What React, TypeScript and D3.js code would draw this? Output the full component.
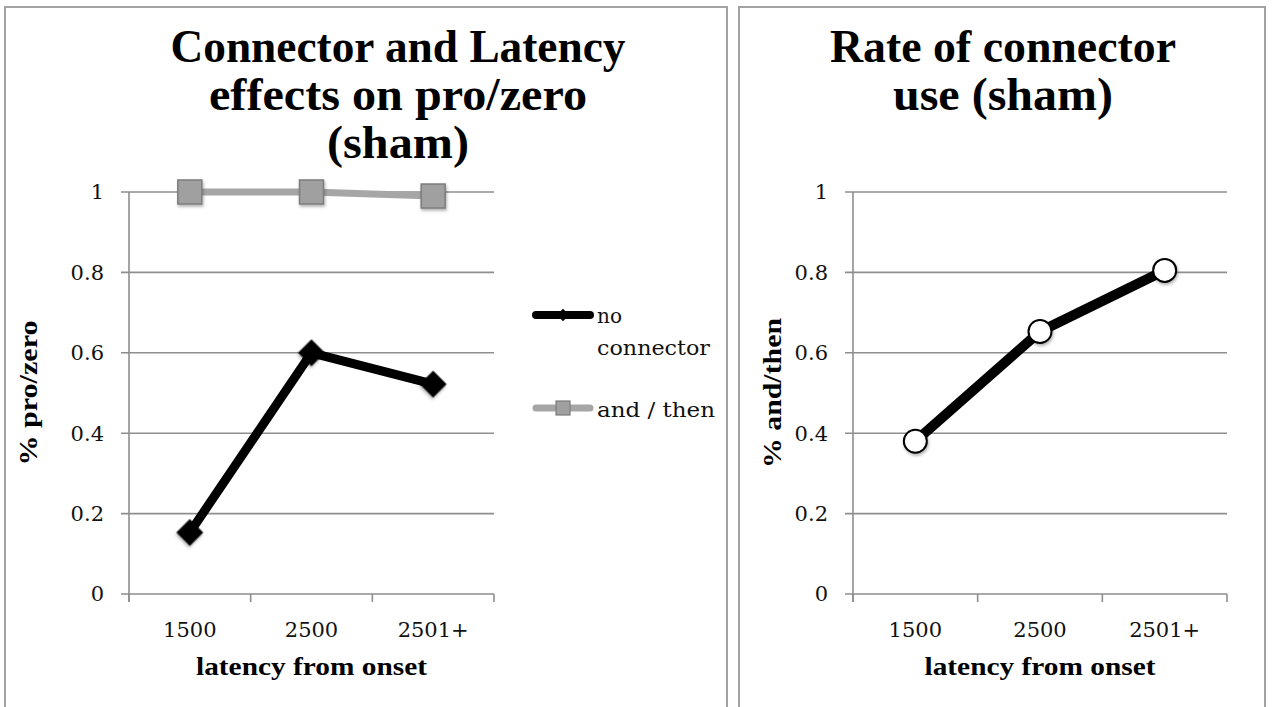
import React from 'react';
import * as d3 from 'd3';

// values
const categories = ['1500', '2500', '2501+'];
const noConnector = [0.153, 0.6, 0.522];
const andThen = [1.0, 1.0, 0.99];
const connectorRate = [0.38, 0.653, 0.805];
const yTicks = [0, 0.2, 0.4, 0.6, 0.8, 1];
const yTickLabels = ['0', '0.2', '0.4', '0.6', '0.8', '1'];

const W = 1272;
const H = 707;
const GRID = '#8e8e8e';
const SERIF = '"DejaVu Serif", "Liberation Serif", serif';
const TITLE_FONT = '"Liberation Serif", serif';

interface TitleLine { text: string; len: number }

interface PanelProps {
  x0: number;
  x1: number;
  titleCx: number;
  titleLines: TitleLine[];
  yTitle: string;
  yTitleLen: number;
  yTitleX: number;
  children: (x: d3.ScaleBand<string>, y: d3.ScaleLinear<number, number>) => React.ReactNode;
}

const top = 192;
const bottom = 594;

const Panel: React.FC<PanelProps> = ({ x0, x1, titleCx, titleLines, yTitle, yTitleLen, yTitleX, children }) => {
  const x = d3.scaleBand<string>().domain(categories).range([x0, x1]).padding(0);
  const y = d3.scaleLinear().domain([0, 1]).range([bottom, top]);
  const bounds = [...categories.map(c => x(c) as number), x1];
  return (
    <g>
      {titleLines.map((l, i) => (
        <text key={i} x={titleCx} y={62 + i * 48} textAnchor="middle" fontFamily={TITLE_FONT}
          fontWeight="bold" fontSize={46} textLength={l.len} lengthAdjust="spacingAndGlyphs" fill="#000">
          {l.text}
        </text>
      ))}
      {/* gridlines + y ticks */}
      {yTicks.map((t, i) => (
        <g key={t}>
          <line x1={x0 - 8} x2={x1} y1={y(t)} y2={y(t)} stroke={GRID} strokeWidth={1.6} />
          <text x={x0 - 25} y={y(t)} dy="0.35em" textAnchor="end" fontFamily={SERIF} fontSize={21} fill="#111">
            {yTickLabels[i]}
          </text>
        </g>
      ))}
      <line x1={x0} x2={x0} y1={top} y2={bottom + 8} stroke={GRID} strokeWidth={1.6} />
      {bounds.map((b, i) => (
        <line key={i} x1={b} x2={b} y1={bottom} y2={bottom + 8} stroke={GRID} strokeWidth={1.6} />
      ))}
      {categories.map(c => (
        <text key={c} x={(x(c) as number) + x.bandwidth() / 2} y={637} textAnchor="middle"
          fontFamily={SERIF} fontSize={21} fill="#111">{c}</text>
      ))}
      <text x={(x0 + x1) / 2} y={675} textAnchor="middle" fontFamily={TITLE_FONT} fontWeight="bold"
        fontSize={25} textLength={231} lengthAdjust="spacingAndGlyphs" fill="#000">latency from onset</text>
      <text transform={`translate(${yTitleX},${(top + bottom) / 2}) rotate(-90)`} textAnchor="middle"
        fontFamily={TITLE_FONT} fontWeight="bold" fontSize={25} textLength={yTitleLen}
        lengthAdjust="spacingAndGlyphs" fill="#000">{yTitle}</text>
      {children(x, y)}
    </g>
  );
};

const App: React.FC = () => {
  const diamond = d3.symbol().type(d3.symbolSquare).size(19 * 19)();
  const cx = (x: d3.ScaleBand<string>, c: string) => (x(c) as number) + x.bandwidth() / 2;

  return (
    <div style={{ position: 'fixed', left: 0, top: 0, width: W, height: H, background: '#fff' }}>
      <svg width={W} height={H} style={{ display: 'block' }}>
        <defs>
          <filter id="shadow" x="-50%" y="-50%" width="200%" height="200%">
            <feDropShadow dx="1" dy="2" stdDeviation="1.5" floodColor="#000" floodOpacity="0.3" />
          </filter>
        </defs>
        <rect width={W} height={H} fill="#fff" />
        {/* panel frames */}
        <rect x={5} y={7} width={722} height={720} fill="none" stroke="#a3a3a3" strokeWidth={2} />
        <rect x={739} y={7} width={526} height={720} fill="none" stroke="#a3a3a3" strokeWidth={2} />

        {/* left panel */}
        <Panel x0={129} x1={494} titleCx={398}
          titleLines={[
            { text: 'Connector and Latency', len: 455 },
            { text: 'effects on pro/zero', len: 378 },
            { text: '(sham)', len: 142 },
          ]}
          yTitle="% pro/zero" yTitleLen={145} yTitleX={37}>
          {(x, y) => {
            const line = d3.line<number>().x((_, i) => cx(x, categories[i])).y(d => y(d));
            return (
              <g>
                <path d={line(andThen) || ''} fill="none" stroke="#a6a6a6" strokeWidth={7} strokeLinejoin="round" />
                {andThen.map((v, i) => (
                  <rect key={i} x={cx(x, categories[i]) - 12} y={y(v) - 12} width={24} height={24}
                    fill="#a0a0a0" stroke="#7c7c7c" strokeWidth={1.5} filter="url(#shadow)" />
                ))}
                <path d={line(noConnector) || ''} fill="none" stroke="#000" strokeWidth={9} strokeLinejoin="round" />
                {noConnector.map((v, i) => (
                  <path key={i} d={diamond || ''} fill="#000" filter="url(#shadow)"
                    transform={`translate(${cx(x, categories[i])},${y(v)}) rotate(45)`} />
                ))}
              </g>
            );
          }}
        </Panel>

        {/* legend */}
        <g>
          <line x1={536} x2={590} y1={315} y2={315} stroke="#000" strokeWidth={8} strokeLinecap="round" />
          <path d={d3.symbol().type(d3.symbolSquare).size(9 * 9)() || ''} fill="#000"
            transform="translate(563,315) rotate(45)" />
          <text x={597} y={323} fontFamily={SERIF} fontSize={20} fill="#111">no</text>
          <text x={597} y={355} fontFamily={SERIF} fontSize={20} fill="#111" textLength={113}
            lengthAdjust="spacingAndGlyphs">connector</text>
          <line x1={536} x2={590} y1={408} y2={408} stroke="#a6a6a6" strokeWidth={7} strokeLinecap="round" />
          <rect x={556} y={401} width={14} height={14} fill="#a0a0a0" stroke="#7c7c7c" strokeWidth={1.2} />
          <text x={597} y={417} fontFamily={SERIF} fontSize={20} fill="#111" textLength={118}
            lengthAdjust="spacingAndGlyphs">and / then</text>
        </g>

        {/* right panel */}
        <Panel x0={853} x1={1227} titleCx={1003}
          titleLines={[
            { text: 'Rate of connector', len: 346 },
            { text: 'use (sham)', len: 220 },
          ]}
          yTitle="% and/then" yTitleLen={150} yTitleX={781}>
          {(x, y) => {
            const line = d3.line<number>().x((_, i) => cx(x, categories[i])).y(d => y(d));
            return (
              <g>
                <path d={line(connectorRate) || ''} fill="none" stroke="#000" strokeWidth={10} strokeLinejoin="round" />
                {connectorRate.map((v, i) => (
                  <circle key={i} cx={cx(x, categories[i])} cy={y(v)} r={11.5} fill="#fff" stroke="#000"
                    strokeWidth={2} filter="url(#shadow)" />
                ))}
              </g>
            );
          }}
        </Panel>
      </svg>
    </div>
  );
};

export default App;
